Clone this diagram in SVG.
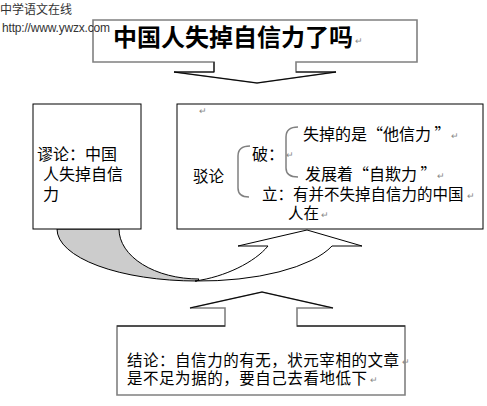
<svg xmlns="http://www.w3.org/2000/svg" width="487" height="406" viewBox="0 0 487 406">
<style>
text{font-family:"Noto Sans CJK SC","Noto Sans",sans-serif;font-size:16px;fill:#000;dominant-baseline:central}
.rt{font-size:9px;fill:#888}
.wm{font-size:12px;fill:#333}
.ttl{font-size:24px;font-weight:bold}
.s15{font-size:15.5px}
.s14{font-size:15px}
.box{fill:#fff;stroke:#000;stroke-width:1}
.gout{fill:#fff;stroke:#808080;stroke-width:1.6}
.blk{fill:none;stroke:#000;stroke-width:1}
.brace{fill:none;stroke:#808080;stroke-width:1.5}
</style>
<rect width="487" height="406" fill="#fff"/>
<g id="title">
<path class="gout" d="M93,20 L417,20 L417,62 L296,62 L296,72 L336,72 L257,83 L174,72 L214,72 L214,62 L93,62 Z"/>
<path class="blk" d="M214,62 L214,72 L174,72 L257,83 L336,72 L296,72"/>
<text class="ttl" x="113" y="35">中国人失掉自信力了吗</text>
<text class="rt" x="355" y="40">↵</text>
</g>
<g id="watermark">
<text class="wm" x="0" y="8">中学语文在线</text>
<text class="wm" x="2" y="28" textLength="108" style="font-family:'Liberation Sans',sans-serif">http://www.ywzx.com</text>
</g>
<g id="connectors">
<path d="M57,229 A140,52 0 0 0 197,281 L199,279 A80,50 0 0 1 119,229 Z" fill="#ccc" stroke="#000" stroke-width="1"/>
<path d="M195,281 C225,277 255,262 268,246 L238,246 L307,230 L362,246 L332,246 A140,52 0 0 1 195,281 Z" fill="#fff" stroke="#000" stroke-width="1"/>
</g>
<g id="left">
<rect class="box" x="33" y="104" width="108" height="125"/>
<text x="37" y="153">谬论：中国</text>
<text x="43" y="173">人失掉自信</text>
<text x="43" y="193">力</text>
</g>
<g id="right">
<rect class="box" x="177" y="104" width="306" height="125"/>
<text class="rt" x="199" y="110">↵</text>
<text class="s15" x="193" y="175">驳论</text>
<path class="brace" d="M250,146 Q238,146 238,156 L238,188 Q238,197 249,197"/>
<text x="252" y="153">破：</text>
<text class="rt" x="286" y="154">↵</text>
<path class="brace" d="M298,127 Q286,127 286,137 L286,168 Q286,177 298,177"/>
<text x="303" y="133">失掉的是“他信力 ”</text>
<text class="rt" x="451" y="135">↵</text>
<text x="305" y="173">发展着“自欺力 ”</text>
<text class="rt" x="437" y="175">↵</text>
<text class="s15" x="262" y="193">立：有并不失掉自信力的中国</text>
<text class="rt" x="467" y="195">↵</text>
<text class="s15" x="288" y="212">人在</text>
<text class="rt" x="321" y="214">↵</text>
</g>
<g id="conclusion">
<path class="gout" d="M117,326 L225,326 L225,308 L190,308 L262,292 L333,308 L297,308 L297,326 L405,326 L405,395 L117,395 Z"/>
<path class="blk" d="M117,326 L225,326 M190,308 L262,292 L333,308 M297,326 L405,326"/>
<text class="s15" x="127" y="359" textLength="272">结论：自信力的有无，状元宰相的文章</text>
<text class="rt" x="402" y="361">↵</text>
<text class="s15" x="127" y="377" textLength="240">是不足为据的，要自己去看地低下</text>
<text class="rt" x="370" y="379">↵</text>
</g>
</svg>
